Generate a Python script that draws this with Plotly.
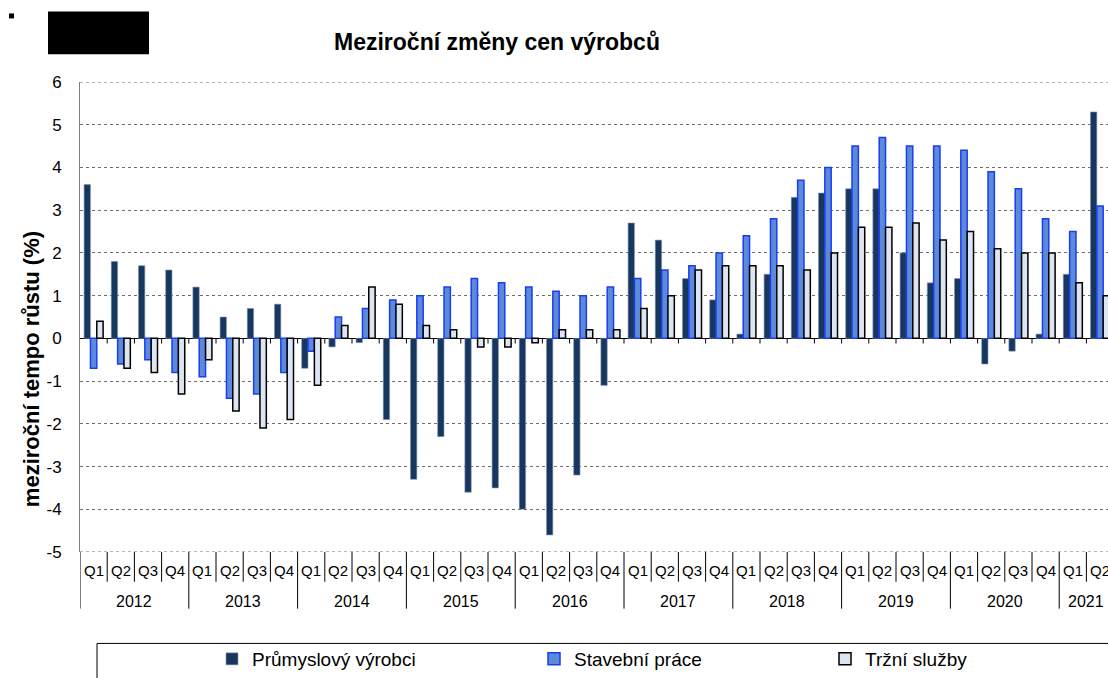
import plotly.graph_objects as go

# ---- data ----
years = ["2012", "2013", "2014", "2015", "2016", "2017", "2018", "2019", "2020", "2021"]
quarters_per_year = [4, 4, 4, 4, 4, 4, 4, 4, 4, 2]
quarter_names = ["Q1", "Q2", "Q3", "Q4"]

prumysl = [3.6, 1.8, 1.7, 1.6, 1.2, 0.5, 0.7, 0.8,
           -0.7, -0.2, -0.1, -1.9, -3.3, -2.3, -3.6, -3.5,
           -4.0, -4.6, -3.2, -1.1, 2.7, 2.3, 1.4, 0.9,
           0.1, 1.5, 3.3, 3.4, 3.5, 3.5, 2.0, 1.3,
           1.4, -0.6, -0.3, 0.1, 1.5, 5.3]
stavebni = [-0.7, -0.6, -0.5, -0.8, -0.9, -1.4, -1.3, -0.8,
            -0.3, 0.5, 0.7, 0.9, 1.0, 1.2, 1.4, 1.3,
            1.2, 1.1, 1.0, 1.2, 1.4, 1.6, 1.7, 2.0,
            2.4, 2.8, 3.7, 4.0, 4.5, 4.7, 4.5, 4.5,
            4.4, 3.9, 3.5, 2.8, 2.5, 3.1]
sluzby = [0.4, -0.7, -0.8, -1.3, -0.5, -1.7, -2.1, -1.9,
          -1.1, 0.3, 1.2, 0.8, 0.3, 0.2, -0.2, -0.2,
          -0.1, 0.2, 0.2, 0.2, 0.7, 1.0, 1.6, 1.7,
          1.7, 1.7, 1.6, 2.0, 2.6, 2.6, 2.7, 2.3,
          2.5, 2.1, 2.0, 2.0, 1.3, 1.0]

series_names = ["Průmyslový výrobci", "Stavební práce", "Tržní služby"]
title_text = "Meziroční změny cen výrobců"
y_title = "meziroční tempo růstu (%)"
y_ticks = [-5, -4, -3, -2, -1, 0, 1, 2, 3, 4, 5, 6]
y_ticktext = [str(v) for v in y_ticks]

# categories
cat_year, cat_q = [], []
for y, n in zip(years, quarters_per_year):
    for q in quarter_names[:n]:
        cat_year.append(y)
        cat_q.append(q)
cats = [f"{y} {q}" for y, q in zip(cat_year, cat_q)]
N = len(cats)

# ---- layout geometry (page pixels; page margin removed so figure starts at 0,0) ----
W, H = 1108, 678
PLOT_L, PLOT_T, PLOT_B, PLOT_R = 80, 82, 555, 1108
ML, MT, MB, MR = PLOT_L, PLOT_T, H - PLOT_B, W - PLOT_R
PW, PH = W - ML - MR, H - MT - MB
CAT_PX = 27.2
FONT = "Arial, Liberation Sans, sans-serif"


def px_x(px):
    return (px - PLOT_L) / PW


def px_y(py):
    return (PLOT_B - py) / PH


fig = go.Figure()
fig.add_trace(go.Bar(x=cats, y=prumysl, name=series_names[0],
                     marker=dict(color="#17375e", line=dict(color="#8093b3", width=0.6)),
                     legend="legend"))
fig.add_trace(go.Bar(x=cats, y=stavebni, name=series_names[1],
                     marker=dict(color="#5b8bd8", line=dict(color="#1c3cf2", width=1.5)),
                     legend="legend2"))
fig.add_trace(go.Bar(x=cats, y=sluzby, name=series_names[2],
                     marker=dict(color="#dce6f2", line=dict(color="#000000", width=1.5)),
                     legend="legend3"))

shapes = []
annotations = []

# dotted lines at top and bottom of the value range
for yv in (y_ticks[0], y_ticks[-1]):
    shapes.append(dict(type="line", xref="paper", yref="y", x0=0, x1=1, y0=yv, y1=yv,
                       layer="below", line=dict(color="#6e6e6e", width=1, dash="dot")))

# small tick marks on the zero line at category boundaries
for i in range(1, N):
    shapes.append(dict(type="line", xref="x", yref="y", x0=i - 0.5, x1=i - 0.5,
                       y0=0, y1=-0.12, line=dict(color="#000000", width=1)))

# quarter labels and dividers
q_bottom = px_y(585)
yr_bottom = px_y(612)
for i, q in enumerate(cat_q):
    annotations.append(dict(x=i, xref="x", y=0, yref="paper", yshift=-18,
                            text=q, showarrow=False, yanchor="middle",
                            font=dict(family=FONT, size=15, color="#000")))
    if i > 0 and q != "Q1":
        shapes.append(dict(type="line", xref="x", yref="paper", x0=i - 0.5, x1=i - 0.5,
                           y0=0, y1=q_bottom, line=dict(color="#000", width=1)))

# year labels and dividers
start = 0
for y, n in zip(years, quarters_per_year):
    shapes.append(dict(type="line", xref="x", yref="paper", x0=start - 0.5, x1=start - 0.5,
                       y0=0, y1=yr_bottom, line=dict(color="#000", width=1)))
    annotations.append(dict(x=start + (n - 1) / 2, xref="x", y=0, yref="paper", yshift=-49,
                            text=y, showarrow=False, yanchor="middle",
                            font=dict(family=FONT, size=16, color="#000")))
    start += n

# y axis title
annotations.append(dict(x=px_x(31), xref="paper", y=px_y(371), yref="paper",
                        xanchor="center", yanchor="middle",
                        text=f"<b>{y_title}</b>", textangle=-90, showarrow=False,
                        font=dict(family=FONT, size=22, color="#000")))
# chart title
annotations.append(dict(x=px_x(497), xref="paper", y=px_y(42), yref="paper",
                        xanchor="center", yanchor="middle",
                        text=f"<b>{title_text}</b>", showarrow=False,
                        font=dict(family=FONT, size=23, color="#000")))

# decorative black boxes at top left
shapes.append(dict(type="rect", xref="paper", yref="paper",
                   x0=px_x(48), x1=px_x(149), y0=px_y(54), y1=px_y(11),
                   fillcolor="#000", line=dict(width=0)))
shapes.append(dict(type="rect", xref="paper", yref="paper",
                   x0=px_x(9), x1=px_x(14), y0=px_y(18), y1=px_y(13),
                   fillcolor="#000", line=dict(width=0)))
# legend frame
shapes.append(dict(type="rect", xref="paper", yref="paper",
                   x0=px_x(97), x1=px_x(1120), y0=px_y(700), y1=px_y(647),
                   line=dict(color="#000", width=1), fillcolor="rgba(0,0,0,0)"))

leg_common = dict(orientation="h", yref="paper", y=px_y(663), yanchor="middle",
                  xanchor="left", bgcolor="rgba(0,0,0,0)", borderwidth=0,
                  font=dict(family=FONT, size=19, color="#000"))

fig.update_layout(
    width=W, height=H, autosize=False,
    margin=dict(l=ML, r=MR, t=MT, b=MB, pad=0),
    paper_bgcolor="white", plot_bgcolor="white",
    barmode="group", bargap=0.30, bargroupgap=0,
    font=dict(family=FONT, color="#000"),
    showlegend=True,
    legend=dict(x=px_x(212), **leg_common),
    legend2=dict(x=px_x(534), **leg_common),
    legend3=dict(x=px_x(825), **leg_common),
    xaxis=dict(type="category", range=[-0.5, -0.5 + PW / CAT_PX],
               showticklabels=False, showgrid=False, zeroline=False,
               showline=False, ticks=""),
    yaxis=dict(range=[y_ticks[0], y_ticks[-1]], tickmode="array",
               tickvals=y_ticks, ticktext=y_ticktext,
               showgrid=True, gridcolor="#6e6e6e", griddash="dot", gridwidth=1,
               zeroline=True, zerolinecolor="#000", zerolinewidth=1,
               showline=True, linecolor="#808080", linewidth=1,
               ticks="", ticklabelstandoff=14,
               tickfont=dict(family=FONT, size=17, color="#000")),
    shapes=shapes, annotations=annotations,
)

# remove the default page margin, scrollbars and mode bar so the figure fills the window exactly
fig.write_html("out.html",
               config={"displayModeBar": False},
               post_script="document.documentElement.style.overflow='hidden';"
                           "document.body.style.overflow='hidden';"
                           "document.body.style.margin='0';")
